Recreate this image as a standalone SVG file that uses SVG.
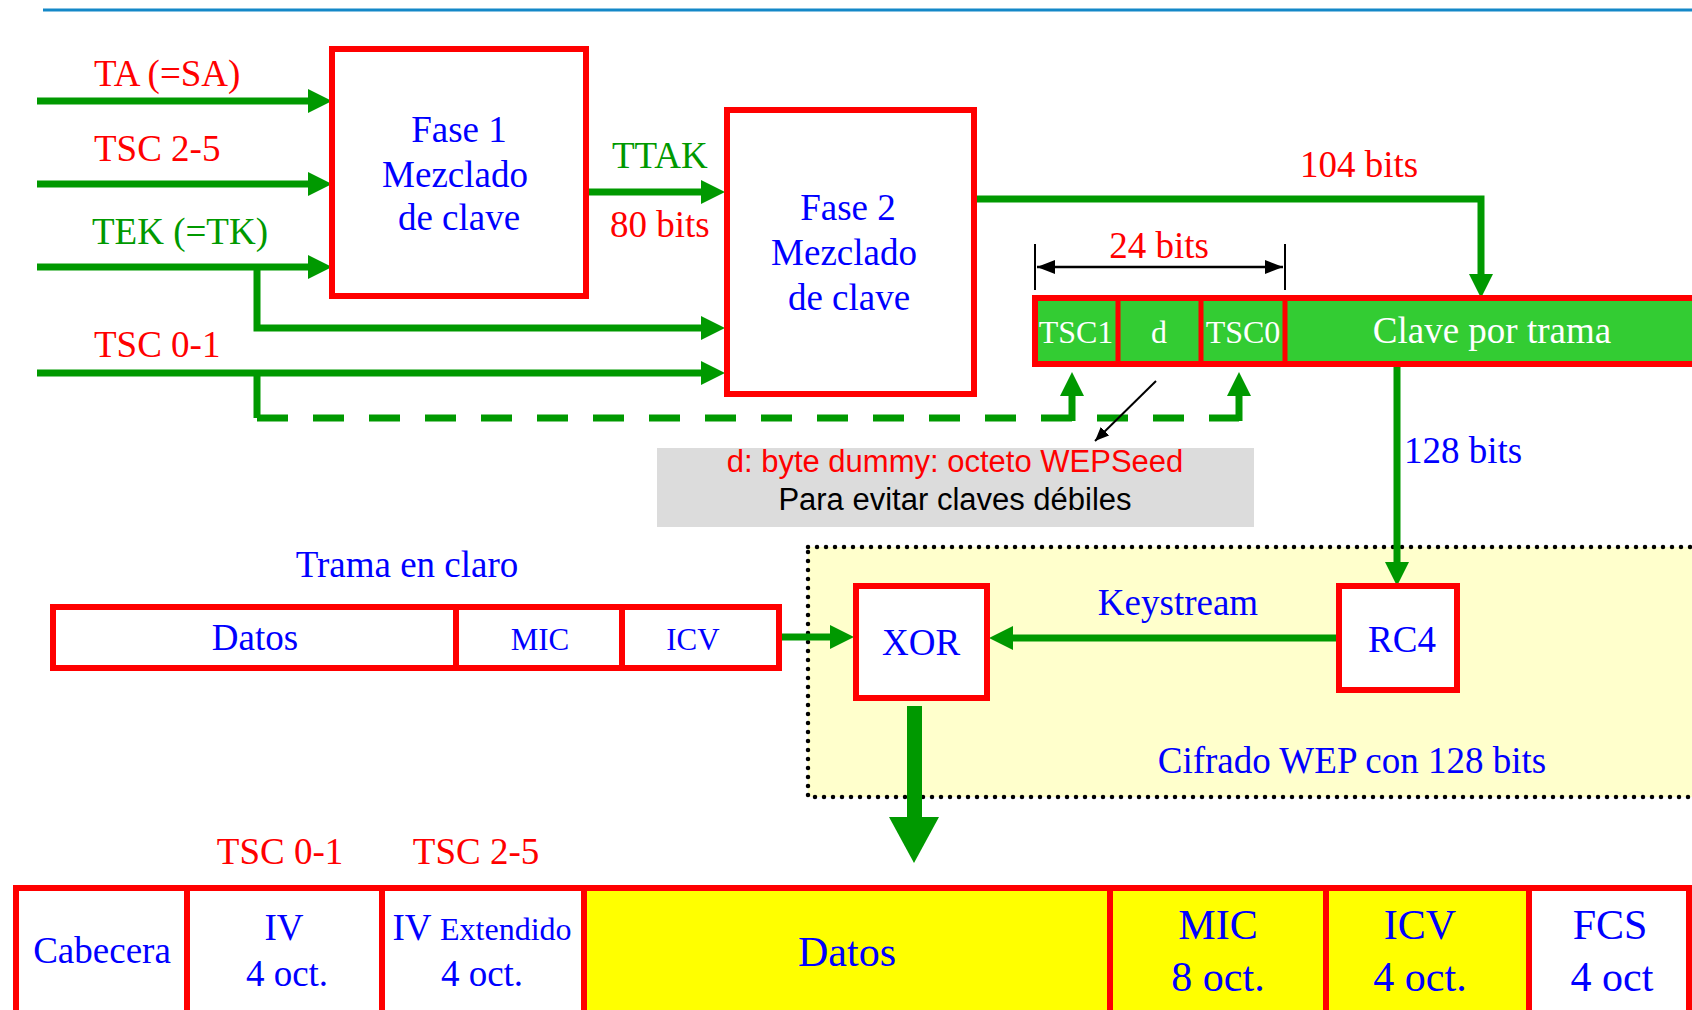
<svg xmlns="http://www.w3.org/2000/svg" width="1692" height="1010" viewBox="0 0 1692 1010">
<style>
.t{font-family:"Liberation Serif","Times New Roman",serif;font-size:37px}
.a{font-family:"Liberation Sans",Arial,sans-serif;font-size:31px}
.s32{font-size:32px}.s31{font-size:31px}.s42{font-size:42px}
.c{text-anchor:middle}
.r{fill:#ff0000}.b{fill:#0000ff}.g{fill:#009900}.w{fill:#ffffff}.k{fill:#000000}
.box{fill:#ffffff;stroke:#ff0000;stroke-width:6}
.ybox{fill:#ffff00;stroke:#ff0000;stroke-width:6}
.kbox{fill:#33cc33;stroke:#ff0000;stroke-width:6}
.gl{fill:none;stroke:#009900;stroke-width:7}
.gd{fill:none;stroke:#009900;stroke-width:7;stroke-dasharray:31 25}
</style>
<defs>
<marker id="ag" viewBox="0 0 24 24" markerWidth="24" markerHeight="24" refX="0" refY="12" orient="auto" markerUnits="userSpaceOnUse"><path d="M0,0 L24,12 L0,24 Z" fill="#009900"/></marker>
<marker id="ak" viewBox="0 0 18 14" markerWidth="18" markerHeight="14" refX="18" refY="7" orient="auto-start-reverse" markerUnits="userSpaceOnUse"><path d="M0,0 L18,7 L0,14 Z" fill="#000000"/></marker>
<marker id="ak2" viewBox="0 0 14 12" markerWidth="14" markerHeight="12" refX="14" refY="6" orient="auto" markerUnits="userSpaceOnUse"><path d="M0,0 L14,6 L0,12 Z" fill="#000000"/></marker>
</defs>

<line x1="43" y1="10" x2="1692" y2="10" stroke="#1488c8" stroke-width="3"/>

<g id="region-wep">
<rect x="808" y="547" width="900" height="250" fill="#ffffcc" stroke="#000000" stroke-width="4.5" stroke-dasharray="0 9" stroke-linecap="round"/>
<text class="t c b" x="1352" y="773">Cifrado WEP con 128 bits</text>
</g>

<g id="note">
<rect x="657" y="448" width="597" height="79" fill="#dcdcdc"/>
<text class="a c r" x="955" y="472">d: byte dummy: octeto WEPSeed</text>
<text class="a c k" x="955" y="510">Para evitar claves débiles</text>
</g>

<g id="connectors">
<line class="gl" x1="37" y1="101" x2="308" y2="101" marker-end="url(#ag)"/>
<line class="gl" x1="37" y1="184" x2="308" y2="184" marker-end="url(#ag)"/>
<line class="gl" x1="37" y1="267" x2="308" y2="267" marker-end="url(#ag)"/>
<path class="gl" d="M257,267 V328 H701" marker-end="url(#ag)"/>
<line class="gl" x1="37" y1="373" x2="701" y2="373" marker-end="url(#ag)"/>
<path class="gl" d="M257,373 V418"/>
<path class="gd" d="M257,418 H1239"/>
<path class="gl" d="M1072,421 V396" marker-end="url(#ag)"/>
<path class="gl" d="M1239,421 V396" marker-end="url(#ag)"/>
<line class="gl" x1="589" y1="192" x2="701" y2="192" marker-end="url(#ag)"/>
<path class="gl" d="M977,199 H1481 V274" marker-end="url(#ag)"/>
<line class="gl" x1="1397" y1="367" x2="1397" y2="562" stroke-width="6" marker-end="url(#ag)"/>
<line class="gl" x1="1337" y1="638" x2="1013" y2="638" marker-end="url(#ag)"/>
<line class="gl" x1="781" y1="637" x2="830" y2="637" marker-end="url(#ag)"/>
<rect x="907" y="706" width="15" height="113" fill="#009900"/>
<polygon points="889,817 939,817 914,863" fill="#009900"/>
<line x1="1035" y1="244" x2="1035" y2="290" stroke="#000" stroke-width="2"/>
<line x1="1285" y1="244" x2="1285" y2="290" stroke="#000" stroke-width="2"/>
<line x1="1037" y1="267" x2="1283" y2="267" stroke="#000" stroke-width="2.5" marker-start="url(#ak)" marker-end="url(#ak)"/>
<line x1="1156" y1="381" x2="1095" y2="441" stroke="#000" stroke-width="2" marker-end="url(#ak2)"/>
</g>

<g id="labels">
<text class="t r" x="94" y="86">TA (=SA)</text>
<text class="t r" x="94" y="161">TSC 2-5</text>
<text class="t g" x="92" y="244">TEK (=TK)</text>
<text class="t r" x="94" y="357">TSC 0-1</text>
<text class="t g" x="612" y="168">TTAK</text>
<text class="t r" x="610" y="237">80 bits</text>
<text class="t r" x="1300" y="177">104 bits</text>
<text class="t c r" x="1159" y="258">24 bits</text>
<text class="t b" x="1404" y="463">128 bits</text>
<text class="t c b" x="407" y="577">Trama en claro</text>
<text class="t c b" x="1178" y="615">Keystream</text>
<text class="t c r" x="280" y="864">TSC 0-1</text>
<text class="t c r" x="476" y="864">TSC 2-5</text>
</g>

<g id="fase1">
<rect class="box" x="332" y="49" width="254" height="247"/>
<text class="t c b" x="459" y="142">Fase 1</text>
<text class="t c b" x="455" y="187">Mezclado</text>
<text class="t c b" x="459" y="230">de clave</text>
</g>

<g id="fase2">
<rect class="box" x="727" y="110" width="247" height="284"/>
<text class="t c b" x="848" y="220">Fase 2</text>
<text class="t c b" x="844" y="265">Mezclado</text>
<text class="t c b" x="849" y="310">de clave</text>
</g>

<g id="clave">
<rect class="kbox" x="1035" y="298" width="700" height="66"/>
<line x1="1118" y1="298" x2="1118" y2="364" stroke="#ff0000" stroke-width="5"/>
<line x1="1201" y1="298" x2="1201" y2="364" stroke="#ff0000" stroke-width="5"/>
<line x1="1285" y1="298" x2="1285" y2="364" stroke="#ff0000" stroke-width="5"/>
<text class="t c w s32" x="1076" y="343">TSC1</text>
<text class="t c w s32" x="1159" y="343">d</text>
<text class="t c w s32" x="1243" y="343">TSC0</text>
<text class="t c w" x="1492" y="343">Clave por trama</text>
</g>

<g id="trama-claro">
<rect class="box" x="53" y="607" width="403" height="61" stroke-width="5"/>
<rect class="box" x="456" y="607" width="166" height="61" stroke-width="5"/>
<rect class="box" x="622" y="607" width="157" height="61" stroke-width="5"/>
<text class="t c b" x="255" y="650">Datos</text>
<text class="t c b s31" x="540" y="650">MIC</text>
<text class="t c b s31" x="693" y="650">ICV</text>
</g>

<g id="xor">
<rect class="box" x="856" y="586" width="131" height="112"/>
<text class="t c b" x="921" y="655">XOR</text>
</g>

<g id="rc4">
<rect class="box" x="1339" y="586" width="118" height="104"/>
<text class="t c b" x="1402" y="652">RC4</text>
</g>

<g id="trama-cifrada">
<rect class="box" x="16" y="888" width="171" height="140"/>
<rect class="box" x="187" y="888" width="195" height="140"/>
<rect class="box" x="382" y="888" width="202" height="140"/>
<rect class="ybox" x="584" y="888" width="526" height="140"/>
<rect class="ybox" x="1110" y="888" width="216" height="140"/>
<rect class="ybox" x="1326" y="888" width="203" height="140"/>
<rect class="box" x="1529" y="888" width="160" height="140"/>
<text class="t c b" x="102" y="963">Cabecera</text>
<text class="t c b" x="284" y="940">IV</text>
<text class="t c b" x="287" y="986">4 oct.</text>
<text class="t c b" x="482" y="940">IV <tspan class="s32">Extendido</tspan></text>
<text class="t c b" x="482" y="986">4 oct.</text>
<text class="t c b s42" x="847" y="966">Datos</text>
<text class="t c b s42" x="1218" y="939">MIC</text>
<text class="t c b s42" x="1218" y="991">8 oct.</text>
<text class="t c b s42" x="1420" y="939">ICV</text>
<text class="t c b s42" x="1420" y="991">4 oct.</text>
<text class="t c b s42" x="1610" y="939">FCS</text>
<text class="t c b s42" x="1612" y="991">4 oct</text>
</g>
</svg>
